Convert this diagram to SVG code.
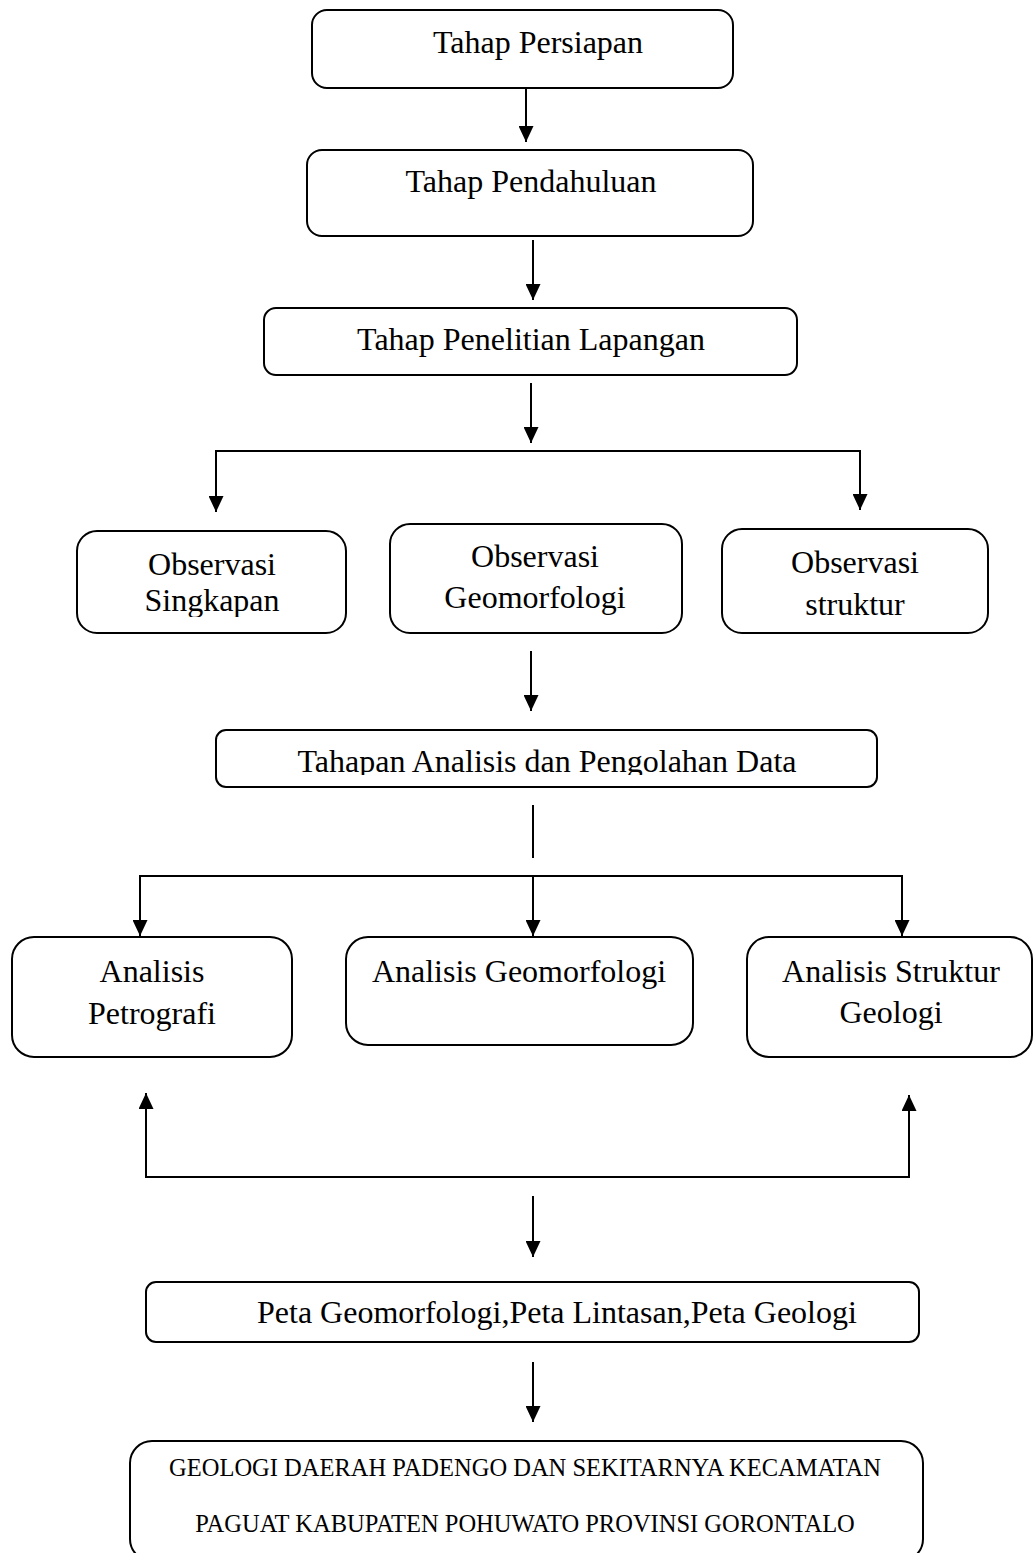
<svg xmlns="http://www.w3.org/2000/svg" width="1033" height="1553" viewBox="0 0 1033 1553">
  <style>
    .box { fill: #ffffff; stroke: #000000; stroke-width: 2; }
    .t { font-family: "Liberation Serif", "Times New Roman", serif; font-size: 32px; fill: #000000; text-anchor: middle; }
    .ts { font-family: "Liberation Serif", "Times New Roman", serif; font-size: 24.5px; fill: #000000; text-anchor: middle; }
    .ln { fill: none; stroke: #000000; stroke-width: 2; }
  </style>
  <defs>
    <marker id="ahd" viewBox="0 0 16 15" refX="16" refY="7.5" markerWidth="16" markerHeight="15" markerUnits="userSpaceOnUse" orient="auto-start-reverse">
      <path d="M0,0 L16,7.5 L0,15 Z" fill="#000000"/>
    </marker>
    <clipPath id="clipSing"><rect x="0" y="0" width="1033" height="617"/></clipPath>
    <clipPath id="clipTah"><rect x="0" y="0" width="1033" height="775"/></clipPath>
  </defs>
  <rect width="1033" height="1553" fill="#ffffff"/>

  <g id="connectors">
    <line class="ln" x1="526" y1="84" x2="526" y2="142" marker-end="url(#ahd)"/>
    <line class="ln" x1="533" y1="240" x2="533" y2="300" marker-end="url(#ahd)"/>
    <line class="ln" x1="531" y1="383" x2="531" y2="443" marker-end="url(#ahd)"/>
    <polyline class="ln" points="216,512 216,451 860,451 860,510" marker-start="url(#ahd)" marker-end="url(#ahd)"/>
    <line class="ln" x1="531" y1="651" x2="531" y2="711" marker-end="url(#ahd)"/>
    <line class="ln" x1="533" y1="805" x2="533" y2="858"/>
    <polyline class="ln" points="140,936 140,876 902,876 902,936" marker-start="url(#ahd)" marker-end="url(#ahd)"/>
    <line class="ln" x1="533" y1="876" x2="533" y2="936" marker-end="url(#ahd)"/>
    <polyline class="ln" points="146,1093 146,1177 909,1177 909,1095" marker-start="url(#ahd)" marker-end="url(#ahd)"/>
    <line class="ln" x1="533" y1="1196" x2="533" y2="1257" marker-end="url(#ahd)"/>
    <line class="ln" x1="533" y1="1362" x2="533" y2="1422" marker-end="url(#ahd)"/>
  </g>

  <g id="n-persiapan">
    <rect class="box" x="312" y="10" width="421" height="78" rx="15"/>
    <text class="t" x="538" y="53">Tahap Persiapan</text>
  </g>
  <g id="n-pendahuluan">
    <rect class="box" x="307" y="150" width="446" height="86" rx="15"/>
    <text class="t" x="531" y="192">Tahap Pendahuluan</text>
  </g>
  <g id="n-penelitian">
    <rect class="box" x="264" y="308" width="533" height="67" rx="12"/>
    <text class="t" x="531" y="350">Tahap Penelitian Lapangan</text>
  </g>
  <g id="n-obs-singkapan">
    <rect class="box" x="77" y="531" width="269" height="102" rx="20"/>
    <text class="t" x="212" y="575">Observasi</text>
    <text class="t" x="212" y="611" clip-path="url(#clipSing)">Singkapan</text>
  </g>
  <g id="n-obs-geomorfologi">
    <rect class="box" x="390" y="524" width="292" height="109" rx="20"/>
    <text class="t" x="535" y="567">Observasi</text>
    <text class="t" x="535" y="608">Geomorfologi</text>
  </g>
  <g id="n-obs-struktur">
    <rect class="box" x="722" y="529" width="266" height="104" rx="20"/>
    <text class="t" x="855" y="573">Observasi</text>
    <text class="t" x="855" y="615">struktur</text>
  </g>
  <g id="n-analisis-data">
    <rect class="box" x="216" y="730" width="661" height="57" rx="10"/>
    <text class="t" x="547" y="772" clip-path="url(#clipTah)">Tahapan Analisis dan Pengolahan Data</text>
  </g>
  <g id="n-petrografi">
    <rect class="box" x="12" y="937" width="280" height="120" rx="22"/>
    <text class="t" x="152" y="982">Analisis</text>
    <text class="t" x="152" y="1024">Petrografi</text>
  </g>
  <g id="n-geomorfologi">
    <rect class="box" x="346" y="937" width="347" height="108" rx="22"/>
    <text class="t" x="519" y="982">Analisis Geomorfologi</text>
  </g>
  <g id="n-struktur-geologi">
    <rect class="box" x="747" y="937" width="285" height="120" rx="22"/>
    <text class="t" x="891" y="982">Analisis Struktur</text>
    <text class="t" x="891" y="1023">Geologi</text>
  </g>
  <g id="n-peta">
    <rect class="box" x="146" y="1282" width="773" height="60" rx="10"/>
    <text class="t" x="257" y="1323" style="text-anchor:start">Peta Geomorfologi,Peta Lintasan,Peta Geologi</text>
  </g>
  <g id="n-hasil">
    <rect class="box" x="130" y="1441" width="793" height="120" rx="22"/>
    <text class="ts" x="525" y="1476">GEOLOGI DAERAH PADENGO DAN SEKITARNYA KECAMATAN</text>
    <text class="ts" x="525" y="1532">PAGUAT KABUPATEN POHUWATO PROVINSI GORONTALO</text>
  </g>
</svg>
